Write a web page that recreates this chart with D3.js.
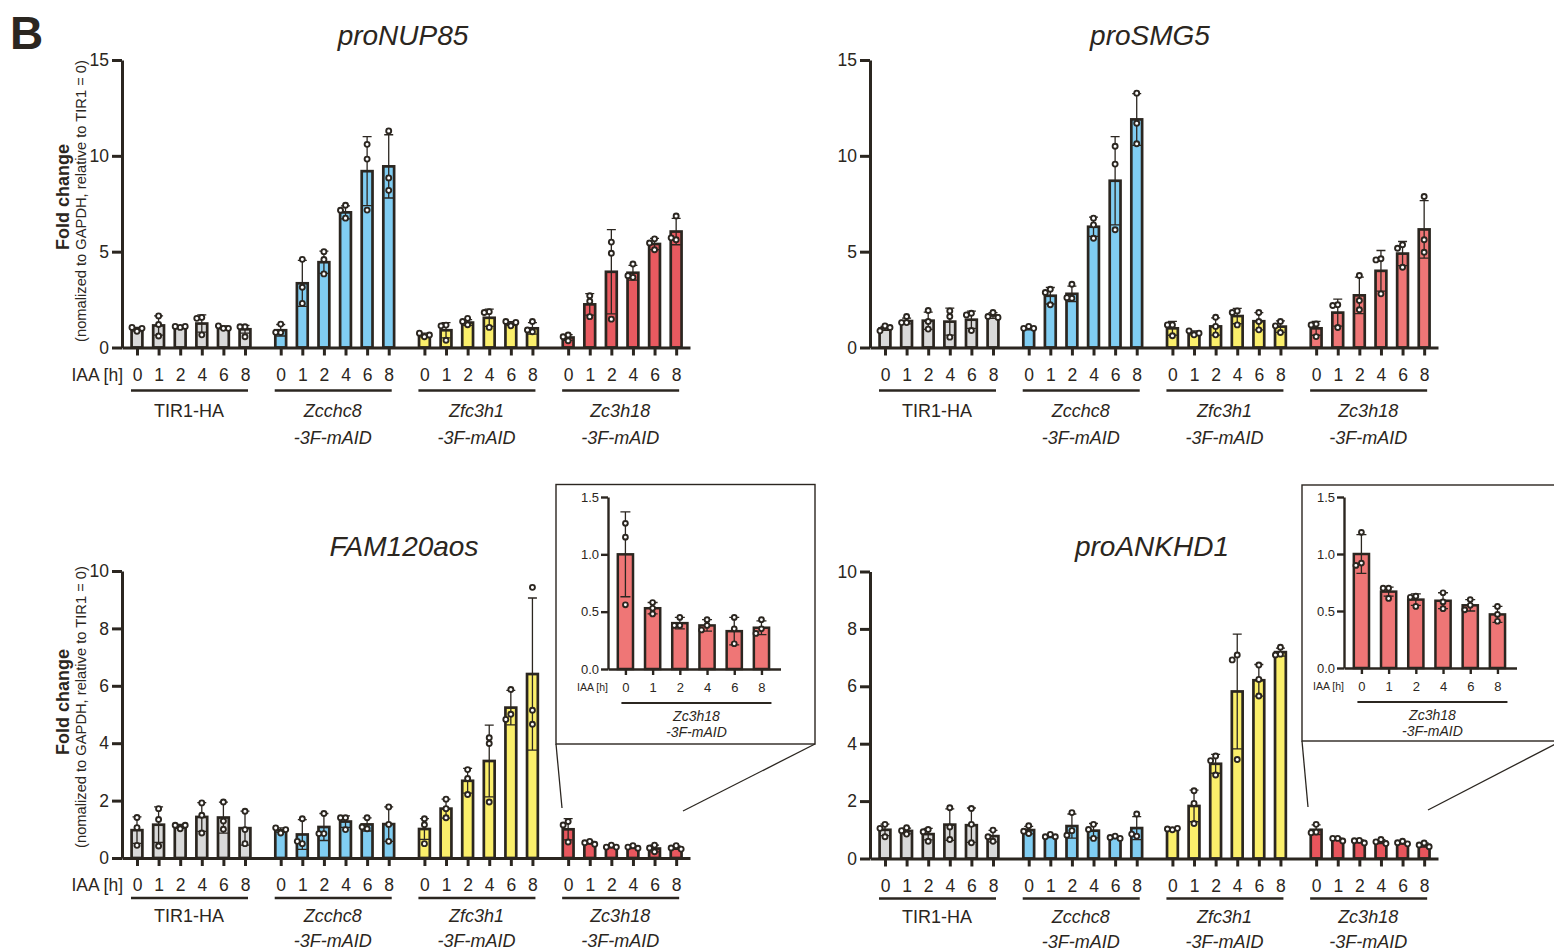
<!DOCTYPE html>
<html>
<head>
<meta charset="utf-8">
<script src="https://cdn.jsdelivr.net/npm/d3@7"></script>
<style>
body { margin: 0; background: #fff; }
svg { font-family: "Liberation Sans", Arial, Helvetica, sans-serif; }
</style>
</head>
<body>
<svg id="fig" width="1554" height="951"></svg>
<script>
const ink = "#2b2620";
const hours = ["0", "1", "2", "4", "6", "8"];
const groups = ["TIR1-HA", "Zcchc8", "Zfc3h1", "Zc3h18"];
const groupSub = ["", "-3F-mAID", "-3F-mAID", "-3F-mAID"];
const groupItalic = [false, true, true, true];
const gray = "#d9d9d9", blue = "#80cdf2", yellow = "#fbef6b";

// proNUP85
const nup85Mean = [0.95, 1.15, 1.05, 1.25, 1.05, 0.95,  0.9, 3.35, 4.45, 7.05, 9.2, 9.45,
                   0.65, 0.9, 1.3, 1.55, 1.25, 1.0,  0.52, 2.25, 3.95, 3.9, 5.4, 6.05];
const nup85Sd = [0.1, 0.5, 0.05, 0.45, 0.08, 0.2,  0.3, 1.2, 0.58, 0.34, 1.8, 1.65,
                 0.1, 0.4, 0.15, 0.45, 0.1, 0.3,  0.15, 0.56, 2.2, 0.38, 0.29, 0.69];
const nup85Dots = [[0.85, 1.05, 1.0], [1.65, 1.2, 0.6], [1.05, 1.1, 1.1], [1.57, 1.52, 0.66], [1.0, 1.13, 1.0], [1.08, 1.08, 0.56],
                   [0.78, 1.22, 0.79], [4.6, 3.14, 2.3], [5.0, 4.59, 3.84], [7.42, 7.16, 6.75], [10.6, 9.83, 7.17], [11.3, 8.85, 8.2],
                   [0.56, 0.75, 0.65], [1.17, 1.13, 0.38], [1.52, 1.19, 1.36], [1.87, 1.83, 1.05], [1.13, 1.36, 1.31], [1.36, 0.82, 0.91],
                   [0.65, 0.35, 0.56], [2.7, 2.41, 1.61], [5.5, 4.92, 1.48], [4.36, 3.66, 3.75], [5.67, 5.1, 5.45], [6.86, 5.62, 5.72]];

// proSMG5
const smg5Mean = [1.0, 1.38, 1.4, 1.35, 1.45, 1.67,  1.0, 2.7, 2.8, 6.3, 8.7, 11.9,
                  1.0, 0.76, 1.1, 1.64, 1.37, 1.09,  1.0, 1.82, 2.72, 4.0, 4.9, 6.16];
const smg5Sd = [0.1, 0.15, 0.45, 0.7, 0.45, 0.15,  0.08, 0.43, 0.4, 0.5, 2.3, 1.35,
                0.36, 0.1, 0.45, 0.4, 0.45, 0.3,  0.36, 0.7, 0.95, 1.06, 0.63, 1.5];
const smg5Dots = [[1.13, 0.87, 1.04], [1.62, 1.3, 1.3], [1.93, 1.36, 0.96], [1.91, 1.62, 0.54], [1.79, 1.7, 0.89], [1.83, 1.62, 1.57],
                  [1.1, 1.0, 1.0], [3.04, 2.87, 2.23], [3.3, 2.57, 2.6], [6.75, 6.4, 5.7], [10.5, 9.57, 6.14], [13.27, 11.7, 10.63],
                  [1.18, 1.18, 0.61], [0.66, 0.87, 0.75], [1.58, 1.1, 0.66], [1.91, 1.83, 1.18], [1.83, 1.36, 0.92], [1.36, 1.13, 0.78],
                  [1.23, 1.18, 0.57], [2.23, 2.19, 1.04], [3.76, 2.45, 1.97], [4.63, 4.57, 2.8], [5.36, 5.18, 4.19], [7.88, 5.62, 4.97]];

// FAM120aos (Zc3h18 part also shown in its inset)
const famMean = [0.97, 1.16, 1.1, 1.43, 1.41, 1.04,  0.97, 0.82, 1.08, 1.27, 1.17, 1.18,
                 1.01, 1.72, 2.69, 3.38, 5.24, 6.41,  1.0, 0.53, 0.4, 0.38, 0.33, 0.36];
const famSd = [0.46, 0.62, 0.07, 0.5, 0.54, 0.59,  0.08, 0.52, 0.47, 0.2, 0.23, 0.6,
               0.36, 0.33, 0.43, 1.25, 0.6, 2.65,  0.37, 0.05, 0.05, 0.05, 0.12, 0.06];
const famDots = [[1.41, 1.06, 0.44], [1.72, 1.34, 0.42], [1.02, 1.14, 1.14], [1.92, 1.49, 0.87], [1.95, 1.29, 1.0], [1.63, 0.99, 0.5],
                 [0.87, 1.05, 0.99], [1.37, 0.5, 0.58], [1.55, 0.85, 0.85], [1.4, 1.4, 0.99], [1.4, 1.02, 1.08], [1.78, 1.17, 0.58],
                 [1.37, 1.16, 0.5], [2.05, 1.72, 1.4], [3.08, 2.77, 2.21], [4.19, 3.99, 1.95], [5.87, 5.01, 4.83], [9.43, 5.15, 4.66],
                 [1.27, 1.15, 0.56], [0.58, 0.53, 0.48], [0.45, 0.38, 0.38], [0.43, 0.38, 0.34], [0.45, 0.35, 0.22], [0.43, 0.35, 0.31]];

// proANKHD1 (Zc3h18 part also shown in its inset)
const ankMean = [1.0, 0.96, 0.85, 1.18, 1.16, 0.78,  0.99, 0.78, 1.13, 0.97, 0.73, 1.06,
                 1.03, 1.83, 3.3, 5.82, 6.21, 7.19,  1.0, 0.67, 0.6, 0.59, 0.55, 0.47];
const ankSd = [0.2, 0.1, 0.2, 0.55, 0.6, 0.2,  0.13, 0.05, 0.42, 0.25, 0.04, 0.4,
               0.04, 0.55, 0.33, 2.0, 0.55, 0.14,  0.17, 0.04, 0.05, 0.07, 0.05, 0.07];
const ankDots = [[1.19, 1.05, 0.76], [1.07, 0.85, 0.97], [1.01, 0.6, 0.93], [1.77, 1.1, 0.66], [1.74, 1.19, 0.55], [0.99, 0.6, 0.76],
                 [1.14, 0.87, 0.95], [0.84, 0.76, 0.76], [1.6, 0.97, 0.81], [1.19, 1.01, 0.7], [0.78, 0.73, 0.7], [1.55, 0.78, 0.85],
                 [1.0, 1.03, 1.05], [2.36, 1.92, 1.22], [3.57, 3.41, 2.91], [7.09, 6.92, 3.45], [6.74, 6.24, 5.66], [7.36, 7.12, 7.09],
                 [1.19, 0.92, 0.9], [0.7, 0.7, 0.61], [0.63, 0.62, 0.54], [0.66, 0.58, 0.52], [0.6, 0.55, 0.51], [0.54, 0.47, 0.41]];

const svg = d3.select("#fig");

// spread overlapping replicate dots sideways (left / centre / right only)
function layoutDots(vals, y, step) {
  const placed = [];
  vals.forEach(v => {
    const py = y(v);
    let best = 0, bestD = -1;
    for (const c of [0, -step, step]) {
      const d = placed.length ? d3.min(placed, p => Math.hypot(p.dx - c, p.py - py)) : Infinity;
      if (d >= 5.5) { best = c; bestD = d; break; }
      if (d > bestD) { best = c; bestD = d; }
    }
    placed.push({ v, py, dx: best });
  });
  return placed;
}

function drawBars(g, xPos, y, means, sds, dots, fills, o) {
  const rows = means.map((m, i) => ({ i, m, sd: sds[i], dots: dots[i], fill: fills[i], cx: xPos(i) }));

  g.selectAll("rect.bar").data(rows).join("rect")
    .attr("class", "bar")
    .attr("x", d => d.cx - o.barW / 2)
    .attr("y", d => y(d.m))
    .attr("width", o.barW)
    .attr("height", d => y(0) - y(d.m))
    .attr("fill", d => d.fill)
    .attr("stroke", ink)
    .attr("stroke-width", o.sw);

  g.selectAll("path.err").data(rows).join("path")
    .attr("class", "err")
    .attr("d", d => {
      const t = y(d.m + d.sd), b = y(Math.max(0, d.m - d.sd)), c = o.cap / 2;
      return `M${d.cx},${t}V${b}M${d.cx - c},${t}H${d.cx + c}M${d.cx - c},${b}H${d.cx + c}`;
    })
    .attr("fill", "none")
    .attr("stroke", ink)
    .attr("stroke-width", 1.3);

  const pts = rows.flatMap(d => layoutDots(d.dots, y, o.step).map(p => ({ x: d.cx + p.dx, y: p.py })));
  g.selectAll("circle.dot").data(pts).join("circle")
    .attr("class", "dot")
    .attr("cx", d => d.x)
    .attr("cy", d => d.y)
    .attr("r", o.r)
    .attr("fill", "#fff")
    .attr("stroke", ink)
    .attr("stroke-width", 1.9);
}

function styleAxis(a, sw, fs) {
  a.selectAll("path,line").attr("stroke", ink).attr("stroke-width", sw);
  a.selectAll("text").attr("fill", ink).attr("font-size", fs);
}

function drawPanel(p) {
  const g = svg.append("g");
  const slot = i => Math.floor(i / 6) * 6.653 + (i % 6);
  const x = d3.scaleLinear().domain([-0.694, 25.6]).range([p.ox, p.ox + 568]);
  const y = d3.scaleLinear().domain([0, p.yMax]).range([p.y0, p.yTop]);
  const fills = p.means.map((m, i) => [gray, blue, yellow, p.red][Math.floor(i / 6)]);

  drawBars(g, i => x(slot(i)), y, p.means, p.sds, p.dots, fills,
    { barW: 10.8, sw: 2.7, cap: 9, r: 2.5, step: 5 });

  const ya = g.append("g").attr("transform", `translate(${p.ox},0)`)
    .call(d3.axisLeft(y).tickValues(p.ticks).tickSize(10).tickSizeOuter(0).tickPadding(3));
  styleAxis(ya, 3, 17.5);

  const xa = g.append("g").attr("transform", `translate(0,${p.y0})`)
    .call(d3.axisBottom(x).tickValues(d3.range(24).map(slot)).tickFormat((d, i) => hours[i % 6])
      .tickSize(8).tickSizeOuter(0).tickPadding(12.6));
  styleAxis(xa, 3, 17.5);

  if (p.ylab) {
    g.append("text").attr("x", p.ox + 1).attr("y", p.y0 + p.lab.tick)
      .attr("text-anchor", "end").attr("font-size", 17.5).attr("fill", ink).text("IAA [h]");
  }

  groups.forEach((name, gi) => {
    const x0 = x(slot(gi * 6)), x1 = x(slot(gi * 6 + 5));
    const cx = (x0 + x1) / 2 - 2;
    g.append("line").attr("x1", x0 - 6).attr("x2", x1 + 3)
      .attr("y1", p.y0 + p.lab.line).attr("y2", p.y0 + p.lab.line)
      .attr("stroke", ink).attr("stroke-width", 2.6);
    const t = g.append("text").attr("x", cx).attr("text-anchor", "middle")
      .attr("font-size", 18).attr("fill", ink)
      .attr("font-style", groupItalic[gi] ? "italic" : "normal");
    t.append("tspan").attr("x", cx).attr("y", p.y0 + p.lab.name).text(name);
    if (groupSub[gi]) t.append("tspan").attr("x", cx).attr("y", p.y0 + p.lab.sub).text(groupSub[gi]);
  });

  g.append("text").attr("x", p.tx).attr("y", p.ty).attr("text-anchor", "middle")
    .attr("font-size", 28).attr("font-style", "italic").attr("fill", ink).text(p.title);

  if (p.ylab) {
    g.append("text").attr("transform", `translate(69,${p.ylab[0]}) rotate(-90)`)
      .attr("text-anchor", "middle").attr("font-size", 18).attr("font-weight", "bold")
      .attr("fill", ink).text("Fold change");
    g.append("text").attr("transform", `translate(86,${p.ylab[1]}) rotate(-90)`)
      .attr("text-anchor", "middle").attr("font-size", 14.7)
      .attr("fill", ink).text("(nomalized to GAPDH, relative to TIR1 = 0)");
  }
  return { x, y, slot };
}

function drawInset(q) {
  const g = svg.append("g");
  g.append("rect").attr("x", q.box[0]).attr("y", q.box[1]).attr("width", q.box[2]).attr("height", q.box[3])
    .attr("fill", "#fff").attr("stroke", ink).attr("stroke-width", 1.4);
  q.links.forEach(l => g.append("line").attr("x1", l[0]).attr("y1", l[1]).attr("x2", l[2]).attr("y2", l[3])
    .attr("stroke", ink).attr("stroke-width", 1.3));

  const x = d3.scaleLinear().domain([-0.64, 5.7]).range([q.ox, q.ox + 172.5]);
  const y = d3.scaleLinear().domain([0, 1.5]).range([q.y0, q.yTop]);
  drawBars(g, i => x(i), y, q.means, q.sds, q.dots, q.means.map(() => q.red),
    { barW: 15.2, sw: 2.5, cap: 10, r: 2.4, step: 5.5 });

  const ya = g.append("g").attr("transform", `translate(${q.ox},0)`)
    .call(d3.axisLeft(y).tickValues([0, 0.5, 1, 1.5]).tickFormat(d3.format(".1f"))
      .tickSize(7).tickSizeOuter(0).tickPadding(2));
  styleAxis(ya, 2.4, 13);

  const xa = g.append("g").attr("transform", `translate(0,${q.y0})`)
    .call(d3.axisBottom(x).tickValues(d3.range(6)).tickFormat(i => hours[i])
      .tickSize(6).tickSizeOuter(0).tickPadding(7.8));
  styleAxis(xa, 2.4, 13);

  g.append("text").attr("x", q.ox).attr("y", q.y0 + 22).attr("text-anchor", "end")
    .attr("font-size", 10.5).attr("fill", ink).text("IAA [h]");

  const ly = q.y0 + 34;
  g.append("line").attr("x1", x(0) - 4).attr("x2", x(5) + 10).attr("y1", ly).attr("y2", ly)
    .attr("stroke", ink).attr("stroke-width", 2);
  const cx = (x(0) + x(5)) / 2 + 3;
  const t = g.append("text").attr("text-anchor", "middle").attr("font-size", 14)
    .attr("font-style", "italic").attr("fill", ink);
  t.append("tspan").attr("x", cx).attr("y", q.y0 + 52).text(groups[3]);
  t.append("tspan").attr("x", cx).attr("y", q.y0 + 68).text(groupSub[3]);
}

svg.append("text").attr("x", 10).attr("y", 49).attr("font-size", 46).attr("font-weight", "bold")
  .attr("fill", ink).text("B");

const topLab = { tick: 33, line: 43, name: 69, sub: 96 };
const botLab = { tick: 33, line: 40, name: 64, sub: 89 };

drawPanel({ ox: 122, y0: 347.5, yTop: 60, yMax: 15, ticks: [0, 5, 10, 15], title: "proNUP85", tx: 403, ty: 45,
  red: "#e95a60", lab: topLab, ylab: [197, 201], means: nup85Mean, sds: nup85Sd, dots: nup85Dots });
drawPanel({ ox: 870, y0: 347.5, yTop: 60, yMax: 15, ticks: [0, 5, 10, 15], title: "proSMG5", tx: 1150, ty: 45,
  red: "#ef7676", lab: topLab, means: smg5Mean, sds: smg5Sd, dots: smg5Dots });
drawPanel({ ox: 122, y0: 858, yTop: 571, yMax: 10, ticks: [0, 2, 4, 6, 8, 10], title: "FAM120aos", tx: 404, ty: 556,
  red: "#e9575e", lab: botLab, ylab: [702, 707], means: famMean, sds: famSd, dots: famDots });
drawPanel({ ox: 870, y0: 858.5, yTop: 571.5, yMax: 10, ticks: [0, 2, 4, 6, 8, 10], title: "proANKHD1", tx: 1152, ty: 556,
  red: "#e8555c", lab: botLab, means: ankMean, sds: ankSd, dots: ankDots });

drawInset({ box: [556, 484.5, 259, 259.5], ox: 608, y0: 669, yTop: 497, red: "#ef7676",
  links: [[556, 744, 562, 808], [815, 744, 683, 811]],
  means: famMean.slice(18), sds: famSd.slice(18), dots: famDots.slice(18) });
drawInset({ box: [1302, 485, 270, 256], ox: 1344, y0: 668, yTop: 497, red: "#ef7676",
  links: [[1302, 741, 1308, 807], [1565, 739, 1428, 810]],
  means: ankMean.slice(18), sds: ankSd.slice(18), dots: ankDots.slice(18) });
</script>
</body>
</html>
